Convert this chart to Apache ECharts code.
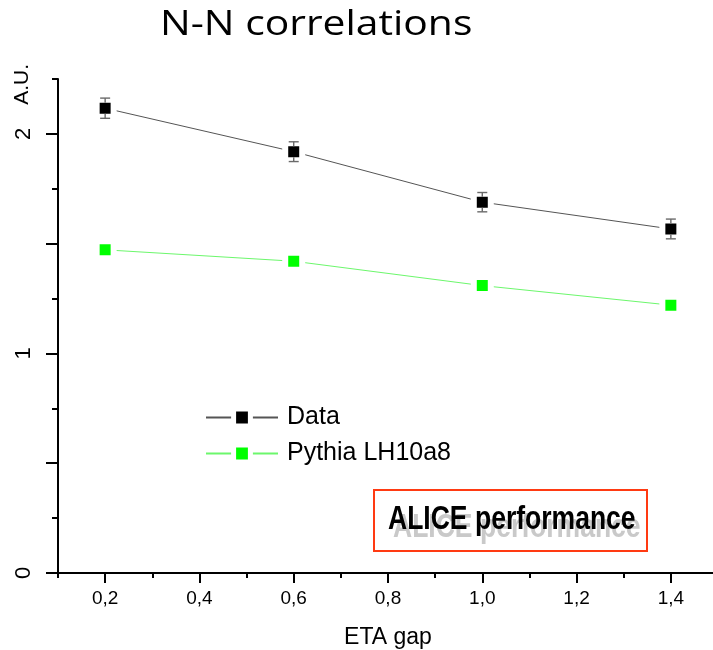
<!DOCTYPE html>
<html>
<head>
<meta charset="utf-8">
<title>N-N correlations</title>
<script src="https://cdn.jsdelivr.net/npm/echarts@6/dist/echarts.min.js"></script>
<style>
  html, body { margin: 0; padding: 0; background: #fff; }
  #chart { width: 713px; height: 650px; }
</style>
</head>
<body>
<div id="chart"></div>
<script>
// Correlation strength versus pseudorapidity gap
const etaGap = [0.2, 0.6, 1.0, 1.4];
const dataValues = [2.117, 1.919, 1.689, 1.567];
const dataErrors = [0.046, 0.045, 0.044, 0.045];
const pythiaValues = [1.472, 1.420, 1.309, 1.220];

// Axis ticks
const xMajorTicks = [0.2, 0.4, 0.6, 0.8, 1.0, 1.2, 1.4];
const xMinorTicks = [0.1, 0.3, 0.5, 0.7, 0.9, 1.1, 1.3, 1.5];
const yMajorTicks = [0, 0.5, 1, 1.5, 2];
const yLabelTicks = [0, 1, 2];
const yMinorTicks = [0.25, 0.75, 1.25, 1.75, 2.25];

const FONT = '"Liberation Sans", Arial, sans-serif';

const chart = echarts.init(document.getElementById('chart'), null, { renderer: 'canvas' });

const dataPoints = etaGap.map((x, i) => [x, dataValues[i]]);
const pythiaPoints = etaGap.map((x, i) => [x, pythiaValues[i]]);
const errorBars = etaGap.map((x, i) => [x, dataValues[i] - dataErrors[i], dataValues[i] + dataErrors[i], dataValues[i]]);

const commaFmt = v => Number(v).toFixed(1).replace('.', ',');

chart.setOption({
  animation: false,
  backgroundColor: '#fff',
  grid: {
    left: 58, top: 79, right: -5, bottom: 77,
    containLabel: false,
    outerBoundsMode: 'none'
  },
  legend: {
    orient: 'vertical',
    left: 205,
    top: 405,
    padding: 0,
    itemWidth: 72,
    itemHeight: 21,
    itemGap: 11,
    itemStyle: { borderColor: '#fff', borderWidth: 5 },
    textStyle: { fontFamily: FONT, fontSize: 25, color: '#000', padding: [0, 0, 0, 4] },
    data: ['Data', 'Pythia LH10a8']
  },
  xAxis: [
    {
      type: 'value', min: 0.1, max: 1.5,
      name: 'ETA gap', nameLocation: 'middle', nameGap: 53,
      nameTextStyle: { fontFamily: FONT, fontSize: 23, color: '#000' },
      axisLine: { show: true, onZero: false, lineStyle: { color: '#000', width: 2 } },
      axisTick: { show: true, length: 10, lineStyle: { color: '#000', width: 2 }, customValues: xMajorTicks },
      axisLabel: { show: true, margin: 16, fontFamily: FONT, fontSize: 19, color: '#000', customValues: xMajorTicks, formatter: commaFmt },
      splitLine: { show: false }
    },
    {
      type: 'value', min: 0.1, max: 1.5, position: 'bottom',
      axisLine: { show: false },
      axisTick: { show: true, length: 5, lineStyle: { color: '#000', width: 2 }, customValues: xMinorTicks },
      axisLabel: { show: false },
      splitLine: { show: false }
    }
  ],
  yAxis: [
    {
      type: 'value', min: 0, max: 2.25,
      axisLine: { show: true, onZero: false, lineStyle: { color: '#000', width: 2 } },
      axisTick: { show: true, length: 12, lineStyle: { color: '#000', width: 2 }, customValues: yMajorTicks },
      axisLabel: { show: true, rotate: 90, margin: 23, fontFamily: FONT, fontSize: 22, color: '#000', customValues: yLabelTicks },
      splitLine: { show: false }
    },
    {
      type: 'value', min: 0, max: 2.25, position: 'left',
      axisLine: { show: false },
      axisTick: { show: true, length: 6, lineStyle: { color: '#000', width: 2 }, customValues: yMinorTicks },
      axisLabel: { show: false },
      splitLine: { show: false }
    }
  ],
  series: [
    {
      name: 'Data',
      type: 'line',
      data: dataPoints,
      symbol: 'rect',
      symbolSize: 17,
      lineStyle: { color: '#555', width: 1 },
      itemStyle: { color: '#000', borderColor: '#fff', borderWidth: 6 },
      z: 3
    },
    {
      name: 'Pythia LH10a8',
      type: 'line',
      data: pythiaPoints,
      symbol: 'rect',
      symbolSize: 17,
      lineStyle: { color: '#6cf76c', width: 1 },
      itemStyle: { color: '#00ff00', borderColor: '#fff', borderWidth: 6 },
      z: 3
    },
    {
      name: 'Data errors',
      type: 'custom',
      data: errorBars,
      z: 4,
      silent: true,
      renderItem: function (params, api) {
        const x = api.value(0);
        const pLo = api.coord([x, api.value(1)]);
        const pHi = api.coord([x, api.value(2)]);
        const pMid = api.coord([x, api.value(3)]);
        const cap = 5;
        const box = 5.5;
        const style = { stroke: '#6a6a6a', lineWidth: 1.4 };
        return {
          type: 'group',
          children: [
            { type: 'line', shape: { x1: pHi[0] - cap, y1: pHi[1], x2: pHi[0] + cap, y2: pHi[1] }, style: style },
            { type: 'line', shape: { x1: pHi[0], y1: pHi[1], x2: pHi[0], y2: pMid[1] - box }, style: style },
            { type: 'line', shape: { x1: pLo[0], y1: pMid[1] + box, x2: pLo[0], y2: pLo[1] }, style: style },
            { type: 'line', shape: { x1: pLo[0] - cap, y1: pLo[1], x2: pLo[0] + cap, y2: pLo[1] }, style: style }
          ]
        };
      }
    }
  ],
  graphic: [
    {
      // chart title, widened to the slide's proportions
      type: 'text',
      x: 160,
      y: 25,
      scaleX: 1.2,
      style: {
        text: 'N-N correlations',
        font: '34px "Open Sans", Lato, sans-serif',
        fill: '#000',
        align: 'left',
        verticalAlign: 'middle'
      }
    },
    {
      type: 'text',
      left: 12,
      top: 64,
      rotation: Math.PI / 2,
      style: { text: 'A.U.', font: '21px ' + FONT, fill: '#000' }
    },
    {
      type: 'group',
      left: 373,
      top: 489,
      children: [
        {
          type: 'rect',
          shape: { x: 0, y: 0, width: 273, height: 61 },
          style: { fill: '#fff', stroke: '#ff3a12', lineWidth: 2 }
        },
        {
          type: 'text',
          x: 19, y: 21,
          scaleX: 0.78,
          style: {
            text: 'ALICE performance',
            font: 'bold 34px ' + FONT,
            fill: '#c9c9c9'
          }
        },
        {
          type: 'text',
          x: 14, y: 13,
          scaleX: 0.78,
          style: {
            text: 'ALICE performance',
            font: 'bold 34px ' + FONT,
            fill: new echarts.graphic.LinearGradient(0, 0, 0, 1, [
              { offset: 0, color: '#d43c3c' },
              { offset: 1, color: '#ee4630' }
            ])
          }
        }
      ]
    }
  ]
});
</script>
</body>
</html>
